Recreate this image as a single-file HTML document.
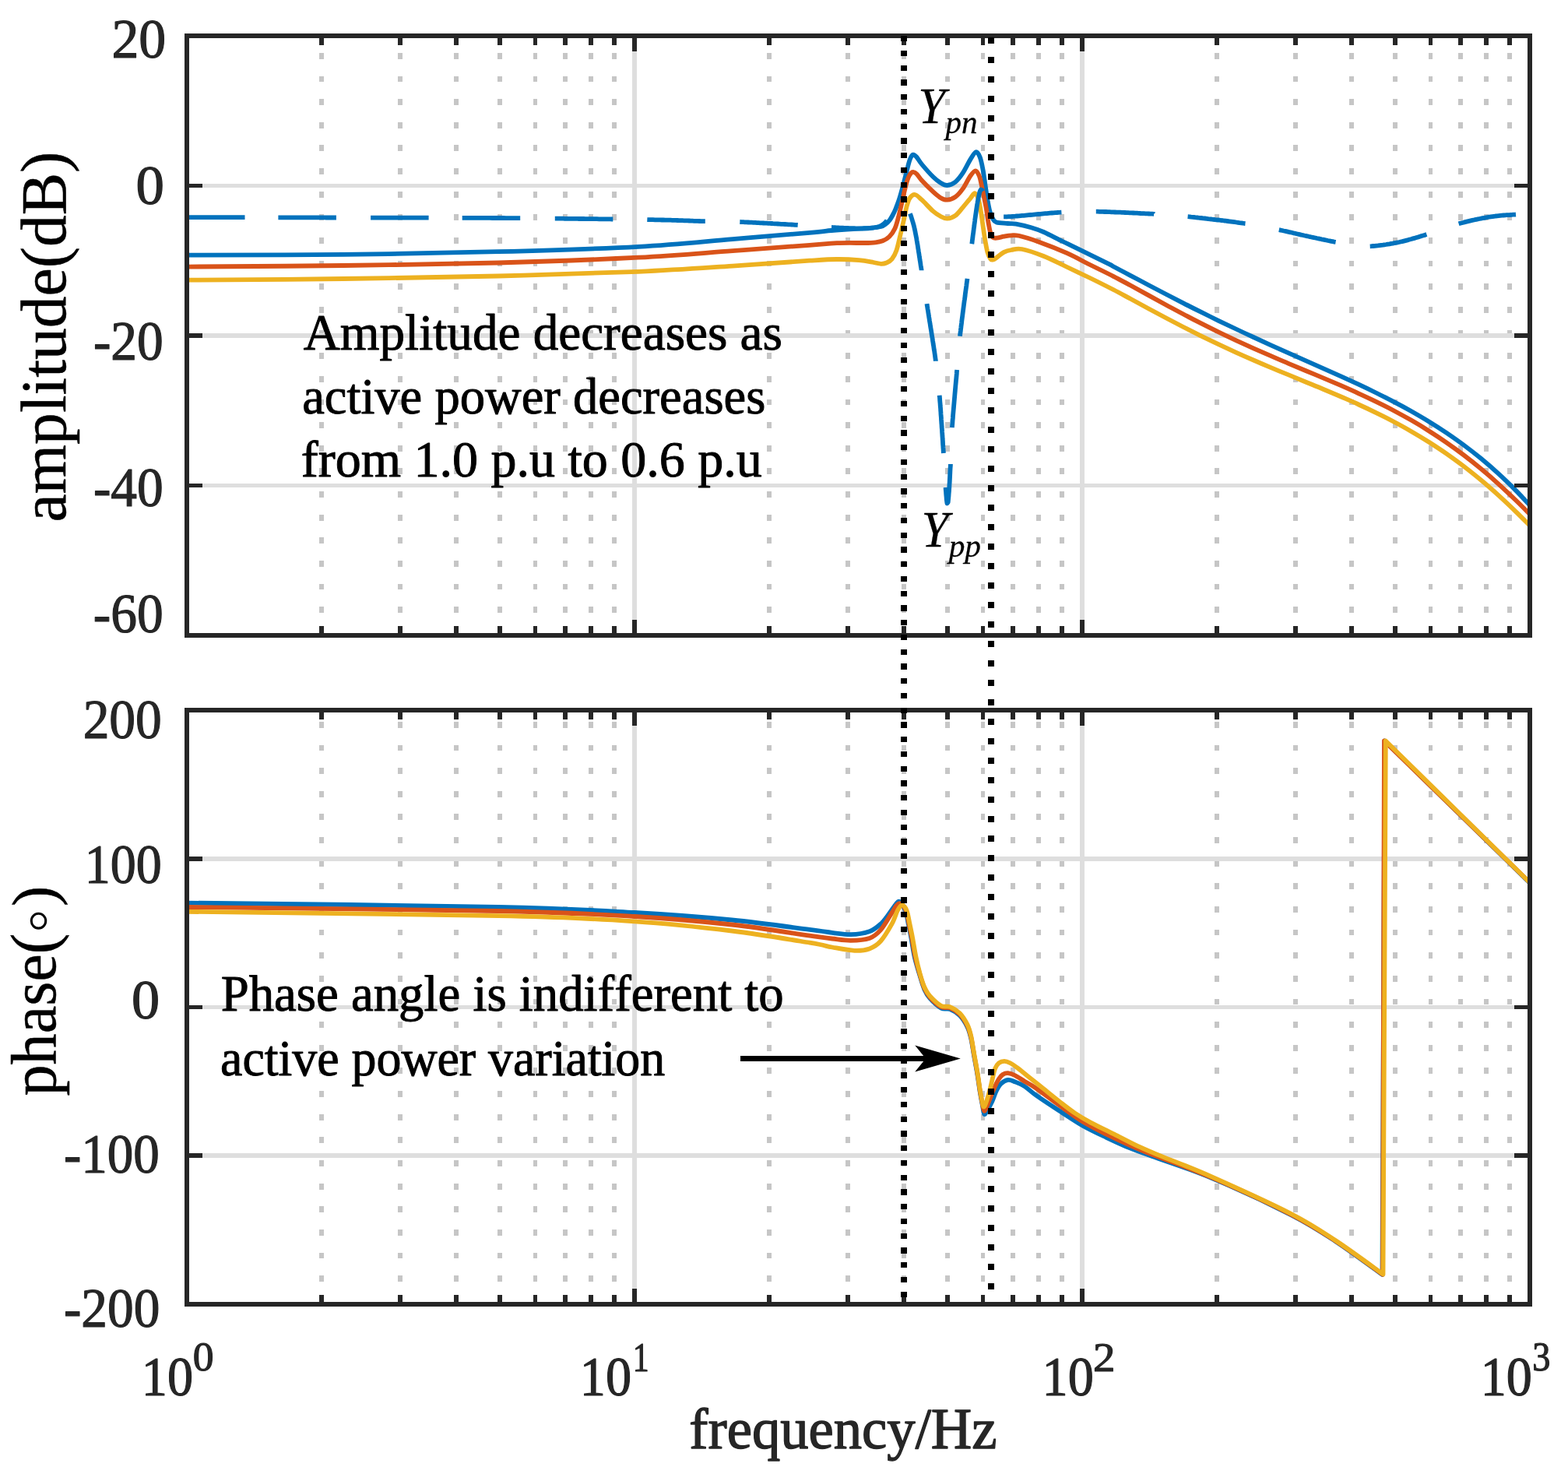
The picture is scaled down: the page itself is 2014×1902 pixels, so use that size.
<!DOCTYPE html>
<html><head><meta charset="utf-8"><title>Bode plot</title>
<style>html,body{margin:0;padding:0;background:#fff;}svg{display:block;}</style>
</head><body>
<svg width="2014" height="1902" viewBox="0 0 2014 1902">
<rect x="0" y="0" width="2014" height="1902" fill="#ffffff"/>
<g shape-rendering="crispEdges">
<line x1="413.09" y1="816.70" x2="413.09" y2="46.00" stroke="#c6c6c6" stroke-width="5.70" stroke-dasharray="7.8 21.84"/>
<line x1="514.34" y1="816.70" x2="514.34" y2="46.00" stroke="#c6c6c6" stroke-width="5.70" stroke-dasharray="7.8 21.84"/>
<line x1="586.18" y1="816.70" x2="586.18" y2="46.00" stroke="#c6c6c6" stroke-width="5.70" stroke-dasharray="7.8 21.84"/>
<line x1="641.91" y1="816.70" x2="641.91" y2="46.00" stroke="#c6c6c6" stroke-width="5.70" stroke-dasharray="7.8 21.84"/>
<line x1="687.44" y1="816.70" x2="687.44" y2="46.00" stroke="#c6c6c6" stroke-width="5.70" stroke-dasharray="7.8 21.84"/>
<line x1="725.93" y1="816.70" x2="725.93" y2="46.00" stroke="#c6c6c6" stroke-width="5.70" stroke-dasharray="7.8 21.84"/>
<line x1="759.28" y1="816.70" x2="759.28" y2="46.00" stroke="#c6c6c6" stroke-width="5.70" stroke-dasharray="7.8 21.84"/>
<line x1="788.69" y1="816.70" x2="788.69" y2="46.00" stroke="#c6c6c6" stroke-width="5.70" stroke-dasharray="7.8 21.84"/>
<line x1="988.09" y1="816.70" x2="988.09" y2="46.00" stroke="#c6c6c6" stroke-width="5.70" stroke-dasharray="7.8 21.84"/>
<line x1="1089.34" y1="816.70" x2="1089.34" y2="46.00" stroke="#c6c6c6" stroke-width="5.70" stroke-dasharray="7.8 21.84"/>
<line x1="1161.18" y1="816.70" x2="1161.18" y2="46.00" stroke="#c6c6c6" stroke-width="5.70" stroke-dasharray="7.8 21.84"/>
<line x1="1216.91" y1="816.70" x2="1216.91" y2="46.00" stroke="#c6c6c6" stroke-width="5.70" stroke-dasharray="7.8 21.84"/>
<line x1="1262.44" y1="816.70" x2="1262.44" y2="46.00" stroke="#c6c6c6" stroke-width="5.70" stroke-dasharray="7.8 21.84"/>
<line x1="1300.93" y1="816.70" x2="1300.93" y2="46.00" stroke="#c6c6c6" stroke-width="5.70" stroke-dasharray="7.8 21.84"/>
<line x1="1334.28" y1="816.70" x2="1334.28" y2="46.00" stroke="#c6c6c6" stroke-width="5.70" stroke-dasharray="7.8 21.84"/>
<line x1="1363.69" y1="816.70" x2="1363.69" y2="46.00" stroke="#c6c6c6" stroke-width="5.70" stroke-dasharray="7.8 21.84"/>
<line x1="1563.09" y1="816.70" x2="1563.09" y2="46.00" stroke="#c6c6c6" stroke-width="5.70" stroke-dasharray="7.8 21.84"/>
<line x1="1664.34" y1="816.70" x2="1664.34" y2="46.00" stroke="#c6c6c6" stroke-width="5.70" stroke-dasharray="7.8 21.84"/>
<line x1="1736.18" y1="816.70" x2="1736.18" y2="46.00" stroke="#c6c6c6" stroke-width="5.70" stroke-dasharray="7.8 21.84"/>
<line x1="1791.91" y1="816.70" x2="1791.91" y2="46.00" stroke="#c6c6c6" stroke-width="5.70" stroke-dasharray="7.8 21.84"/>
<line x1="1837.44" y1="816.70" x2="1837.44" y2="46.00" stroke="#c6c6c6" stroke-width="5.70" stroke-dasharray="7.8 21.84"/>
<line x1="1875.93" y1="816.70" x2="1875.93" y2="46.00" stroke="#c6c6c6" stroke-width="5.70" stroke-dasharray="7.8 21.84"/>
<line x1="1909.28" y1="816.70" x2="1909.28" y2="46.00" stroke="#c6c6c6" stroke-width="5.70" stroke-dasharray="7.8 21.84"/>
<line x1="1938.69" y1="816.70" x2="1938.69" y2="46.00" stroke="#c6c6c6" stroke-width="5.70" stroke-dasharray="7.8 21.84"/>
<line x1="815.00" y1="46.00" x2="815.00" y2="816.00" stroke="#dedede" stroke-width="5.70"/>
<line x1="1390.00" y1="46.00" x2="1390.00" y2="816.00" stroke="#dedede" stroke-width="5.70"/>
<line x1="240.00" y1="46.00" x2="1965.00" y2="46.00" stroke="#dedede" stroke-width="5.70"/>
<line x1="240.00" y1="238.50" x2="1965.00" y2="238.50" stroke="#dedede" stroke-width="5.70"/>
<line x1="240.00" y1="431.00" x2="1965.00" y2="431.00" stroke="#dedede" stroke-width="5.70"/>
<line x1="240.00" y1="623.50" x2="1965.00" y2="623.50" stroke="#dedede" stroke-width="5.70"/>
<line x1="240.00" y1="816.00" x2="1965.00" y2="816.00" stroke="#dedede" stroke-width="5.70"/>
</g>
<text x="389.76" y="449.20" font-family="'Liberation Serif','Times New Roman',serif" font-size="66.50" fill="#000" textLength="615.09" lengthAdjust="spacingAndGlyphs" stroke="#000" stroke-width="1.00" stroke-linejoin="round" style="font-kerning:none">Amplitude decreases as</text>
<text x="388.13" y="531.20" font-family="'Liberation Serif','Times New Roman',serif" font-size="66.50" fill="#000" textLength="595.20" lengthAdjust="spacingAndGlyphs" stroke="#000" stroke-width="1.00" stroke-linejoin="round" style="font-kerning:none">active power decreases</text>
<text x="386.77" y="612.00" font-family="'Liberation Serif','Times New Roman',serif" font-size="66.50" fill="#000" textLength="592.06" lengthAdjust="spacingAndGlyphs" stroke="#000" stroke-width="1.00" stroke-linejoin="round" style="font-kerning:none">from 1.0 p.u to 0.6 p.u</text>
<text x="1179.35" y="157.90" font-family="'Liberation Serif','Times New Roman',serif" font-size="66.50" fill="#000" font-style="italic" textLength="35.00" lengthAdjust="spacingAndGlyphs" stroke="#000" stroke-width="0.30" stroke-linejoin="round" style="font-kerning:none">Y</text>
<text x="1214.56" y="171.00" font-family="'Liberation Serif','Times New Roman',serif" font-size="42.00" fill="#000" font-style="italic" textLength="41.10" lengthAdjust="spacingAndGlyphs" stroke="#000" stroke-width="0.30" stroke-linejoin="round" style="font-kerning:none">pn</text>
<text x="1183.46" y="701.90" font-family="'Liberation Serif','Times New Roman',serif" font-size="66.50" fill="#000" font-style="italic" textLength="34.91" lengthAdjust="spacingAndGlyphs" stroke="#000" stroke-width="0.30" stroke-linejoin="round" style="font-kerning:none">Y</text>
<text x="1218.67" y="714.80" font-family="'Liberation Serif','Times New Roman',serif" font-size="42.00" fill="#000" font-style="italic" textLength="41.33" lengthAdjust="spacingAndGlyphs" stroke="#000" stroke-width="0.30" stroke-linejoin="round" style="font-kerning:none">pp</text>
<g fill="none" stroke-width="5.80" stroke-linejoin="round" stroke-linecap="butt">
<path d="M240.0,327.7C273.5,327.6 374.3,327.6 441.0,326.8C507.7,326.1 576.8,324.9 640.0,323.2C703.2,321.5 769.8,319.5 820.0,316.8C870.2,314.1 904.3,310.1 941.0,307.1C977.7,304.1 1018.8,300.7 1040.0,298.8C1061.2,296.9 1058.7,296.8 1068.0,296.0C1077.3,295.2 1087.8,294.5 1096.0,294.0C1104.2,293.5 1111.1,293.5 1117.0,293.0C1122.9,292.5 1128.1,291.9 1131.6,291.0C1135.1,290.1 1136.2,288.8 1138.0,287.5C1139.8,286.2 1141.1,284.8 1142.5,283.0C1143.9,281.2 1145.2,278.9 1146.5,276.5C1147.8,274.1 1148.9,272.0 1150.3,268.5C1151.7,265.0 1153.5,260.5 1155.1,255.5C1156.7,250.5 1158.3,244.5 1159.9,238.5C1161.5,232.5 1163.3,225.0 1164.7,219.5C1166.1,214.0 1167.2,209.0 1168.5,205.5C1169.8,202.0 1171.0,199.4 1172.5,198.7C1174.0,198.0 1175.3,199.4 1177.2,201.5C1179.1,203.6 1180.5,206.8 1184.0,211.0C1187.5,215.2 1194.4,223.1 1198.4,227.0C1202.4,230.9 1205.0,232.9 1208.0,234.7C1211.0,236.5 1213.4,238.2 1216.6,238.0C1219.8,237.8 1223.8,236.3 1227.1,233.7C1230.4,231.1 1233.5,227.0 1236.7,222.2C1239.9,217.4 1243.5,209.4 1246.3,204.9C1249.1,200.4 1251.4,195.8 1253.5,195.3C1255.6,194.8 1257.3,198.2 1258.8,202.1C1260.3,205.9 1261.5,212.5 1262.6,218.4C1263.7,224.3 1264.5,231.2 1265.5,237.6C1266.5,244.0 1267.4,251.1 1268.4,256.7C1269.4,262.3 1270.2,267.1 1271.3,271.1C1272.4,275.1 1273.7,278.3 1275.1,280.7C1276.5,283.1 1276.7,284.4 1279.9,285.5C1283.1,286.6 1290.1,286.6 1294.3,287.0C1298.5,287.4 1300.0,286.7 1305.0,287.6C1310.0,288.5 1318.6,290.5 1324.5,292.2C1330.4,293.9 1333.9,295.0 1340.6,298.0C1347.3,301.0 1356.8,306.1 1364.8,310.0C1372.8,313.9 1378.8,316.7 1388.8,321.6C1398.8,326.5 1418.1,335.8 1425.0,339.3C1431.9,342.8 1425.4,339.8 1430.0,342.3C1434.6,344.8 1445.0,350.2 1452.5,354.1C1460.0,358.1 1467.5,362.0 1475.0,366.0C1482.5,369.9 1490.0,373.8 1497.5,377.7C1505.0,381.6 1512.5,385.5 1520.0,389.3C1527.5,393.2 1535.0,397.0 1542.5,400.7C1550.0,404.4 1557.5,408.1 1565.0,411.8C1572.5,415.4 1580.0,419.0 1587.5,422.5C1595.0,426.1 1602.5,429.6 1610.0,433.0C1617.5,436.5 1625.0,439.9 1632.5,443.3C1640.0,446.7 1647.5,450.0 1655.0,453.3C1662.5,456.7 1670.0,460.0 1677.5,463.3C1685.0,466.6 1692.5,469.9 1700.0,473.3C1707.5,476.6 1715.0,479.9 1722.5,483.3C1730.0,486.7 1737.5,490.2 1745.0,493.7C1752.5,497.2 1760.0,500.8 1767.5,504.5C1775.0,508.2 1782.5,511.9 1790.0,515.9C1797.5,519.8 1805.0,523.8 1812.5,528.0C1820.0,532.3 1827.5,536.6 1835.0,541.2C1842.5,545.8 1850.0,550.6 1857.5,555.6C1865.0,560.7 1872.5,565.9 1880.0,571.5C1887.5,577.1 1895.0,582.9 1902.5,589.1C1910.0,595.3 1917.5,601.8 1925.0,608.7C1932.5,615.5 1940.8,623.7 1947.5,630.4C1954.2,637.2 1962.1,646.0 1965.0,649.1" stroke="#0072bd"/>
<path d="M240.0,342.6C273.5,342.3 374.3,341.9 441.0,341.0C507.7,340.1 576.8,339.2 640.0,337.5C703.2,335.8 769.8,333.2 820.0,330.7C870.2,328.1 904.3,324.8 941.0,322.2C977.7,319.6 1017.7,316.5 1040.0,314.8C1062.3,313.1 1063.2,312.7 1075.0,312.2C1086.8,311.7 1102.2,312.1 1110.5,312.0C1118.8,311.9 1120.7,311.8 1124.6,311.3C1128.5,310.9 1130.9,310.5 1133.8,309.3C1136.7,308.1 1139.6,306.6 1142.2,304.0C1144.8,301.4 1147.3,298.1 1149.3,293.8C1151.3,289.5 1152.7,283.6 1154.2,278.0C1155.7,272.4 1157.1,266.0 1158.5,260.0C1159.9,254.0 1161.2,247.2 1162.5,242.0C1163.8,236.8 1165.2,231.8 1166.5,228.5C1167.8,225.2 1168.8,223.8 1170.0,222.5C1171.2,221.2 1172.2,220.8 1173.4,221.0C1174.7,221.2 1175.7,221.7 1177.5,223.5C1179.3,225.3 1180.5,228.0 1184.0,231.8C1187.5,235.6 1194.4,242.5 1198.4,246.2C1202.4,249.9 1205.0,252.2 1208.0,253.9C1211.0,255.7 1213.4,256.9 1216.6,256.7C1219.8,256.5 1223.8,255.3 1227.1,252.9C1230.4,250.5 1233.5,246.9 1236.7,242.4C1239.9,237.9 1243.6,229.8 1246.3,226.0C1249.0,222.2 1251.1,219.3 1253.0,219.3C1254.9,219.3 1256.5,222.9 1257.8,226.0C1259.1,229.1 1259.7,233.3 1260.7,237.6C1261.7,241.9 1262.6,247.1 1263.6,251.9C1264.6,256.7 1265.5,260.7 1266.5,266.3C1267.5,271.9 1268.5,280.1 1269.4,285.5C1270.4,290.9 1271.2,295.7 1272.2,298.9C1273.2,302.1 1273.8,303.6 1275.1,304.7C1276.4,305.8 1277.5,305.9 1279.9,305.7C1282.3,305.5 1286.3,304.3 1289.5,303.7C1292.7,303.1 1295.9,302.4 1299.1,302.3C1302.3,302.2 1302.8,301.4 1308.7,302.8C1314.6,304.2 1324.1,307.0 1334.4,310.7C1344.7,314.4 1359.7,320.3 1370.6,325.2C1381.5,330.1 1390.1,335.1 1400.0,340.0C1409.9,344.9 1421.2,350.3 1430.0,354.8C1438.8,359.3 1445.0,362.8 1452.5,366.8C1460.0,370.9 1467.5,375.0 1475.0,379.1C1482.5,383.3 1490.0,387.4 1497.5,391.5C1505.0,395.5 1512.5,399.6 1520.0,403.5C1527.5,407.5 1535.0,411.4 1542.5,415.2C1550.0,419.0 1557.5,422.8 1565.0,426.4C1572.5,430.1 1580.0,433.6 1587.5,437.1C1595.0,440.6 1602.5,444.0 1610.0,447.4C1617.5,450.7 1625.0,454.0 1632.5,457.2C1640.0,460.5 1647.5,463.6 1655.0,466.8C1662.5,470.0 1670.0,473.1 1677.5,476.2C1685.0,479.3 1692.5,482.5 1700.0,485.6C1707.5,488.8 1715.0,492.0 1722.5,495.2C1730.0,498.5 1737.5,501.8 1745.0,505.3C1752.5,508.7 1760.0,512.2 1767.5,515.9C1775.0,519.5 1782.5,523.3 1790.0,527.2C1797.5,531.2 1805.0,535.3 1812.5,539.6C1820.0,543.9 1827.5,548.4 1835.0,553.2C1842.5,557.9 1850.0,562.8 1857.5,568.1C1865.0,573.3 1872.5,578.7 1880.0,584.4C1887.5,590.1 1895.0,596.1 1902.5,602.3C1910.0,608.5 1917.5,615.0 1925.0,621.8C1932.5,628.6 1940.8,636.5 1947.5,643.0C1954.2,649.4 1962.1,657.6 1965.0,660.5" stroke="#d95319"/>
<path d="M240.0,359.7C273.5,359.4 374.3,358.9 441.0,358.0C507.7,357.1 576.8,356.0 640.0,354.5C703.2,353.0 769.8,350.9 820.0,348.8C870.2,346.7 904.3,344.0 941.0,341.6C977.7,339.2 1017.7,336.1 1040.0,334.7C1062.3,333.3 1064.4,333.1 1075.0,333.0C1085.6,332.9 1095.6,333.5 1103.4,334.2C1111.2,334.9 1117.3,336.2 1122.0,337.0C1126.7,337.8 1128.8,338.7 1131.6,338.8C1134.4,338.9 1136.3,338.5 1138.7,337.5C1141.1,336.5 1143.6,335.2 1145.7,332.6C1147.8,330.0 1149.6,326.8 1151.4,321.7C1153.2,316.6 1154.7,309.1 1156.3,302.3C1157.9,295.5 1159.8,287.2 1161.2,281.1C1162.6,275.0 1163.3,269.9 1164.5,265.5C1165.7,261.1 1166.7,257.1 1168.5,254.5C1170.3,251.9 1172.7,249.6 1175.3,250.0C1177.9,250.4 1180.2,253.2 1184.0,256.7C1187.8,260.2 1194.4,267.6 1198.4,271.1C1202.4,274.6 1205.0,276.2 1208.0,277.8C1211.0,279.4 1213.4,280.9 1216.6,280.7C1219.8,280.5 1223.8,279.3 1227.1,276.9C1230.4,274.5 1233.5,270.0 1236.7,266.3C1239.9,262.6 1243.7,257.8 1246.3,254.8C1248.9,251.8 1250.3,247.8 1252.1,248.1C1253.9,248.4 1255.6,252.9 1256.9,256.7C1258.2,260.5 1258.8,265.5 1259.8,271.1C1260.8,276.7 1261.6,283.9 1262.6,290.3C1263.5,296.7 1264.5,303.9 1265.5,309.5C1266.5,315.1 1267.3,320.1 1268.4,323.9C1269.5,327.7 1271.0,330.9 1272.2,332.5C1273.4,334.1 1274.2,333.8 1275.6,333.5C1277.0,333.2 1278.2,332.1 1280.5,330.5C1282.8,328.9 1286.4,325.5 1289.5,323.9C1292.6,322.3 1295.2,321.6 1299.1,321.0C1302.9,320.4 1305.7,318.7 1312.6,320.0C1319.5,321.3 1330.9,325.2 1340.6,329.0C1350.3,332.8 1360.7,338.3 1370.6,343.0C1380.5,347.7 1390.1,352.2 1400.0,357.0C1409.9,361.8 1421.2,367.5 1430.0,372.0C1438.8,376.5 1445.0,380.0 1452.5,384.0C1460.0,388.0 1467.5,392.1 1475.0,396.2C1482.5,400.2 1490.0,404.2 1497.5,408.2C1505.0,412.2 1512.5,416.1 1520.0,420.0C1527.5,423.8 1535.0,427.6 1542.5,431.3C1550.0,435.0 1557.5,438.6 1565.0,442.2C1572.5,445.7 1580.0,449.2 1587.5,452.6C1595.0,456.0 1602.5,459.3 1610.0,462.5C1617.5,465.8 1625.0,469.0 1632.5,472.1C1640.0,475.3 1647.5,478.4 1655.0,481.4C1662.5,484.5 1670.0,487.6 1677.5,490.7C1685.0,493.8 1692.5,496.8 1700.0,500.0C1707.5,503.1 1715.0,506.3 1722.5,509.5C1730.0,512.8 1737.5,516.0 1745.0,519.5C1752.5,522.9 1760.0,526.4 1767.5,530.1C1775.0,533.7 1782.5,537.5 1790.0,541.5C1797.5,545.4 1805.0,549.6 1812.5,553.9C1820.0,558.2 1827.5,562.7 1835.0,567.5C1842.5,572.3 1850.0,577.2 1857.5,582.4C1865.0,587.7 1872.5,593.1 1880.0,598.8C1887.5,604.6 1895.0,610.5 1902.5,616.8C1910.0,623.0 1917.5,629.6 1925.0,636.4C1932.5,643.2 1940.8,651.1 1947.5,657.6C1954.2,664.0 1962.1,672.2 1965.0,675.1" stroke="#edb120"/>
<path d="M240.0,279.1 L242.1,279.1 L244.3,279.1 L246.7,279.1 L249.2,279.1 L251.9,279.1 L254.0,279.1 L256.2,279.1 L258.4,279.1 L260.7,279.1 L263.1,279.1 L265.5,279.1 L268.0,279.2 L270.6,279.2 L273.2,279.2 L275.9,279.2 L278.7,279.2 L281.5,279.2 L284.3,279.2 L287.2,279.2 L290.2,279.2 L293.2,279.2 L295.2,279.2 L297.3,279.2 L299.3,279.2 L301.4,279.2 L303.5,279.2 L305.6,279.2 L307.7,279.2 L309.9,279.2 L312.0,279.2 L314.2,279.2 L314.5,279.2" stroke="#0072bd"/>
<path d="M357.4,279.3 L359.7,279.3 L362.0,279.3 L364.4,279.3 L366.7,279.3 L369.0,279.4 L371.4,279.4 L373.7,279.4 L376.0,279.4 L378.4,279.4 L380.7,279.4 L383.0,279.4 L385.3,279.4 L387.6,279.4 L389.9,279.4 L392.2,279.4 L394.5,279.4 L396.8,279.4 L399.1,279.4 L401.3,279.4 L403.6,279.4 L405.8,279.4 L408.1,279.4 L410.3,279.4 L412.5,279.4 L414.7,279.4 L416.9,279.4 L419.1,279.5 L421.3,279.5 L423.4,279.5 L425.5,279.5 L427.7,279.5 L429.8,279.5 L431.8,279.5 L431.9,279.5" stroke="#0072bd"/>
<path d="M476.1,279.6 L478.1,279.6 L480.2,279.6 L482.2,279.6 L484.2,279.6 L486.2,279.6 L488.2,279.6 L490.2,279.6 L492.3,279.6 L494.3,279.6 L496.3,279.6 L498.3,279.6 L500.3,279.6 L502.3,279.6 L504.3,279.6 L506.4,279.6 L508.4,279.6 L510.4,279.6 L512.4,279.6 L514.4,279.6 L516.4,279.6 L518.5,279.6 L520.5,279.6 L522.5,279.6 L524.5,279.6 L526.5,279.6 L528.5,279.6 L530.6,279.6 L532.6,279.6 L534.6,279.6 L536.6,279.6 L538.6,279.6 L540.6,279.6 L542.6,279.6 L544.6,279.7 L546.7,279.7 L548.7,279.7 L550.6,279.7" stroke="#0072bd"/>
<path d="M593.7,279.8 L596.7,279.8 L599.6,279.8 L602.6,279.8 L605.6,279.8 L608.6,279.8 L611.5,279.8 L614.5,279.9 L617.5,279.9 L620.4,279.9 L623.4,279.9 L626.3,279.9 L629.2,279.9 L632.2,280.0 L635.1,280.0 L638.0,280.0 L641.0,280.0 L643.9,280.0 L646.9,280.0 L649.9,280.1 L652.9,280.1 L654.9,280.1 L656.9,280.1 L658.9,280.1 L660.9,280.2 L663.0,280.2 L665.0,280.2 L667.1,280.2 L668.2,280.2" stroke="#0072bd"/>
<path d="M712.8,280.6 L714.9,280.6 L717.0,280.7 L719.1,280.7 L721.2,280.7 L723.2,280.7 L725.3,280.8 L727.4,280.8 L729.4,280.8 L731.5,280.8 L733.6,280.8 L735.6,280.9 L737.7,280.9 L739.7,280.9 L741.7,280.9 L743.8,281.0 L745.8,281.0 L747.8,281.0 L749.8,281.0 L751.8,281.1 L754.8,281.1 L757.8,281.1 L760.7,281.2 L763.7,281.2 L766.6,281.2 L769.5,281.3 L772.3,281.3 L775.2,281.3 L778.0,281.4 L780.8,281.4 L783.5,281.4 L786.3,281.5 L787.3,281.5" stroke="#0072bd"/>
<path d="M831.3,282.1 L833.9,282.2 L836.4,282.2 L838.8,282.2 L841.2,282.3 L843.5,282.3 L845.7,282.4 L847.9,282.4 L850.0,282.5 L852.0,282.5 L854.5,282.6 L856.8,282.6 L859.1,282.7 L861.3,282.7 L863.5,282.8 L865.5,282.9 L867.9,282.9 L870.1,283.0 L872.3,283.1 L874.4,283.1 L876.5,283.2 L878.7,283.3 L880.9,283.4 L883.1,283.4 L885.1,283.5 L887.2,283.6 L889.4,283.7 L891.6,283.8 L893.8,283.8 L896.0,283.9 L898.3,284.0 L900.5,284.1 L902.8,284.1 L904.8,284.2 L905.8,284.2" stroke="#0072bd"/>
<path d="M950.3,285.0 L952.5,285.1 L954.7,285.2 L956.7,285.3 L958.8,285.4 L961.0,285.5 L963.2,285.6 L965.4,285.7 L967.7,285.8 L970.0,285.9 L972.4,286.1 L974.4,286.2 L976.4,286.3 L978.5,286.4 L980.5,286.5 L982.6,286.6 L984.7,286.7 L986.7,286.8 L988.8,286.9 L990.9,287.0 L992.9,287.2 L995.0,287.3 L997.0,287.4 L999.1,287.5 L1001.1,287.6 L1003.5,287.8 L1005.8,287.9 L1008.2,288.0 L1010.4,288.1 L1012.7,288.3 L1014.8,288.4 L1016.9,288.5 L1019.0,288.6 L1021.3,288.8 L1023.5,288.9 L1024.7,289.0" stroke="#0072bd"/>
<path d="M1068.0,292.0 L1070.1,292.1 L1072.3,292.2 L1074.4,292.3 L1076.5,292.4 L1078.6,292.6 L1080.6,292.6 L1082.6,292.7 L1084.7,292.8 L1086.8,292.9 L1088.9,293.0 L1091.0,293.1 L1093.0,293.1 L1095.2,293.2 L1097.3,293.2 L1099.3,293.3 L1101.4,293.3 L1103.4,293.3 L1105.5,293.3 L1107.5,293.3 L1109.6,293.2 L1111.7,293.2 L1113.8,293.1 L1115.8,293.0 L1117.8,292.9 L1119.8,292.7 L1121.8,292.5 L1123.9,292.2 L1125.8,291.8 L1127.8,291.4 L1129.7,290.7 L1131.6,289.9 L1133.3,288.8 L1135.0,287.6 L1136.5,286.3 L1137.9,284.9 L1139.1,283.3 L1139.3,283.0" stroke="#0072bd"/>
<path d="M1168.8,274.3 L1169.6,276.2 L1170.3,278.1 L1170.9,280.0 L1171.5,282.0 L1172.1,284.0 L1172.7,285.9 L1173.2,287.8 L1173.8,289.9 L1174.3,292.0 L1174.7,294.0 L1175.2,296.0 L1175.6,298.1 L1176.0,300.2 L1176.4,302.2 L1176.8,304.3 L1177.2,306.3 L1177.5,308.4 L1177.9,310.6 L1178.2,312.6 L1178.6,314.6 L1178.9,316.7 L1179.2,318.9 L1179.6,321.0 L1179.9,323.2 L1180.3,325.4 L1180.6,327.6 L1180.9,329.8 L1181.3,332.0 L1181.6,334.3 L1182.0,336.4 L1182.3,338.6 L1182.6,340.7 L1183.0,342.9 L1183.3,344.9 L1183.6,346.9 L1183.6,347.2" stroke="#0072bd"/>
<path d="M1190.5,390.2 L1190.8,392.3 L1191.2,394.5 L1191.5,396.7 L1191.9,398.7 L1192.2,400.8 L1192.5,402.9 L1192.9,405.0 L1193.2,407.2 L1193.6,409.5 L1193.9,411.7 L1194.3,414.0 L1194.7,416.3 L1195.0,418.6 L1195.4,421.0 L1195.8,423.3 L1196.2,425.7 L1196.5,428.1 L1196.9,430.4 L1197.3,432.8 L1197.7,435.1 L1198.0,437.4 L1198.4,439.7 L1198.7,442.0 L1199.1,444.2 L1199.4,446.4 L1199.7,448.6 L1200.1,450.7 L1200.4,452.8 L1200.7,454.9 L1201.0,457.2 L1201.3,459.4 L1201.6,461.5 L1201.9,463.5 L1201.9,463.8" stroke="#0072bd"/>
<path d="M1206.7,507.7 L1206.9,509.8 L1207.1,512.0 L1207.2,514.3 L1207.4,516.4 L1207.6,518.5 L1207.7,520.6 L1207.9,522.8 L1208.1,525.0 L1208.2,527.3 L1208.4,529.6 L1208.5,531.9 L1208.7,534.3 L1208.9,536.7 L1209.0,539.0 L1209.2,541.4 L1209.3,543.4 L1209.5,545.4 L1209.6,547.8 L1209.8,550.2 L1210.0,552.6 L1210.1,554.9 L1210.3,557.3 L1210.4,559.6 L1210.6,561.9 L1210.7,564.1 L1210.9,566.3 L1211.0,568.5 L1211.1,570.6 L1211.3,572.7 L1211.4,574.7 L1211.6,576.9 L1211.7,579.1 L1211.8,581.2 L1211.9,582.0" stroke="#0072bd"/>
<path d="M1214.6,626.0 L1214.7,628.0 L1214.9,630.2 L1215.1,632.3 L1215.2,634.3 L1215.4,636.4 L1215.6,638.4 L1215.7,640.4 L1215.9,642.4 L1216.2,644.5 L1216.5,646.5 L1217.7,644.9 L1217.9,642.9 L1218.1,640.8 L1218.3,638.8 L1218.5,636.7 L1218.6,634.6 L1218.8,632.5 L1219.0,630.4 L1219.1,628.3 L1219.3,626.2 L1219.4,624.1 L1219.5,621.9 L1219.7,619.9 L1219.8,617.7 L1219.9,615.7 L1220.0,613.6 L1220.1,611.5 L1220.2,609.3 L1220.3,607.3 L1220.4,605.2 L1220.5,603.1 L1220.6,601.0 L1220.8,598.8 L1220.9,596.8 L1220.9,596.1" stroke="#0072bd"/>
<path d="M1222.9,549.2 L1223.0,547.1 L1223.2,544.9 L1223.4,542.6 L1223.5,540.6 L1223.7,538.5 L1223.9,536.4 L1224.0,534.2 L1224.2,532.0 L1224.4,529.8 L1224.6,527.5 L1224.8,525.2 L1225.0,522.9 L1225.2,520.6 L1225.4,518.3 L1225.6,515.9 L1225.8,513.6 L1226.0,511.2 L1226.2,508.9 L1226.4,506.5 L1226.6,504.2 L1226.8,501.9 L1227.0,499.6 L1227.2,497.4 L1227.4,495.1 L1227.6,492.9 L1227.8,490.8 L1228.0,488.6 L1228.2,486.6 L1228.4,484.5 L1228.6,482.2 L1228.8,480.0 L1228.9,477.9 L1229.1,475.9 L1229.2,475.0" stroke="#0072bd"/>
<path d="M1233.0,431.7 L1233.2,429.6 L1233.5,427.4 L1233.8,425.1 L1234.0,423.1 L1234.3,421.1 L1234.5,419.0 L1234.8,416.8 L1235.1,414.6 L1235.3,412.4 L1235.6,410.1 L1235.9,407.9 L1236.2,405.6 L1236.5,403.2 L1236.8,400.9 L1237.1,398.6 L1237.4,396.2 L1237.7,393.9 L1238.0,391.5 L1238.3,389.2 L1238.6,386.8 L1239.0,384.5 L1239.3,382.2 L1239.6,380.0 L1239.8,377.7 L1240.1,375.5 L1240.4,373.3 L1240.7,371.2 L1241.0,369.1 L1241.3,367.1 L1241.5,365.1 L1241.8,362.9 L1242.1,360.7 L1242.4,358.6 L1242.5,357.8" stroke="#0072bd"/>
<path d="M1248.3,313.2 L1248.6,311.2 L1248.8,309.1 L1249.1,307.0 L1249.4,304.9 L1249.6,302.8 L1249.9,300.7 L1250.2,298.6 L1250.5,296.5 L1250.7,294.4 L1251.0,292.3 L1251.3,290.3 L1251.5,288.3 L1251.8,286.3 L1252.1,284.1 L1252.3,281.9 L1252.6,279.8 L1252.9,277.8 L1253.2,275.7 L1253.5,273.6 L1253.8,271.5 L1254.1,269.5 L1254.4,267.5 L1254.7,265.4 L1255.0,263.3 L1255.4,261.3 L1255.7,259.3 L1256.1,257.2 L1256.5,255.2 L1256.9,253.2 L1257.3,251.2 L1257.7,249.2 L1258.2,247.2 L1258.8,245.3 L1259.8,243.5 L1261.6,244.4 L1262.3,245.7" stroke="#0072bd"/>
<path d="M1289.1,278.4 L1291.2,278.4 L1293.3,278.3 L1295.3,278.2 L1297.4,278.1 L1299.7,278.0 L1301.8,277.8 L1303.9,277.7 L1306.2,277.5 L1308.5,277.3 L1310.8,277.1 L1312.8,276.9 L1314.9,276.8 L1317.0,276.6 L1319.1,276.4 L1321.2,276.2 L1323.3,276.0 L1325.5,275.8 L1327.6,275.6 L1329.8,275.4 L1331.9,275.2 L1334.1,275.0 L1336.2,274.8 L1338.4,274.6 L1340.5,274.4 L1342.6,274.2 L1344.6,274.1 L1346.7,273.9 L1348.7,273.7 L1351.0,273.5 L1353.3,273.3 L1355.5,273.1 L1357.6,273.0 L1359.6,272.8 L1361.9,272.7 L1363.4,272.6" stroke="#0072bd"/>
<path d="M1407.8,271.7 L1409.9,271.7 L1412.1,271.8 L1414.4,271.9 L1416.5,271.9 L1418.6,272.0 L1420.7,272.0 L1422.9,272.1 L1425.2,272.2 L1427.4,272.3 L1429.8,272.4 L1432.1,272.5 L1434.5,272.6 L1436.9,272.7 L1438.9,272.7 L1440.9,272.8 L1442.9,272.9 L1444.9,273.0 L1446.9,273.1 L1448.9,273.2 L1450.9,273.3 L1453.3,273.4 L1455.7,273.5 L1458.1,273.6 L1460.4,273.7 L1462.7,273.8 L1465.0,274.0 L1467.2,274.1 L1469.4,274.2 L1471.5,274.3 L1473.6,274.4 L1475.6,274.5 L1477.8,274.6 L1480.0,274.7 L1482.1,274.8 L1482.2,274.9" stroke="#0072bd"/>
<path d="M1525.6,278.1 L1527.7,278.3 L1529.9,278.6 L1532.3,278.8 L1534.3,279.0 L1536.4,279.3 L1538.6,279.5 L1540.8,279.8 L1543.1,280.0 L1545.4,280.3 L1547.7,280.5 L1550.1,280.8 L1552.1,281.1 L1554.1,281.3 L1556.1,281.5 L1558.1,281.8 L1560.1,282.0 L1562.2,282.3 L1564.2,282.5 L1566.2,282.7 L1568.2,283.0 L1570.3,283.2 L1572.3,283.5 L1574.3,283.7 L1576.6,284.0 L1579.0,284.3 L1581.3,284.6 L1583.5,284.9 L1585.7,285.2 L1587.9,285.5 L1590.0,285.8 L1592.1,286.1 L1594.1,286.3 L1596.4,286.7 L1598.5,287.0 L1599.5,287.1" stroke="#0072bd"/>
<path d="M1642.8,295.2 L1644.8,295.6 L1646.8,296.0 L1648.9,296.5 L1651.0,296.9 L1653.1,297.4 L1655.2,297.9 L1657.3,298.3 L1659.3,298.8 L1661.3,299.3 L1663.4,299.7 L1665.4,300.2 L1667.4,300.7 L1669.3,301.1 L1671.3,301.6 L1673.3,302.0 L1675.3,302.5 L1677.3,302.9 L1679.3,303.3 L1681.3,303.8 L1683.3,304.2 L1685.3,304.7 L1687.4,305.1 L1689.4,305.5 L1691.5,306.0 L1693.5,306.4 L1695.6,306.8 L1697.6,307.3 L1699.6,307.7 L1701.6,308.1 L1703.6,308.5 L1705.7,309.0 L1707.8,309.4 L1709.8,309.8 L1711.8,310.2 L1713.8,310.6 L1715.6,310.9" stroke="#0072bd"/>
<path d="M1759.7,316.3 L1761.7,316.2 L1763.7,316.0 L1765.8,315.8 L1767.9,315.6 L1770.0,315.4 L1772.1,315.1 L1774.2,314.8 L1776.2,314.6 L1778.3,314.3 L1780.4,314.0 L1782.5,313.6 L1784.7,313.3 L1786.8,312.9 L1788.9,312.6 L1791.0,312.2 L1793.1,311.8 L1795.1,311.4 L1797.1,311.0 L1799.1,310.5 L1801.0,310.1 L1803.0,309.6 L1805.0,309.1 L1806.9,308.6 L1808.9,308.1 L1810.8,307.5 L1812.8,307.0 L1814.8,306.4 L1816.8,305.9 L1818.7,305.3 L1820.7,304.7 L1822.8,304.1 L1824.8,303.4 L1826.9,302.8 L1828.9,302.2 L1830.9,301.6 L1832.4,301.1" stroke="#0072bd"/>
<path d="M1873.6,287.3 L1875.6,286.7 L1877.7,286.2 L1879.8,285.7 L1881.8,285.1 L1883.9,284.6 L1886.0,284.1 L1888.1,283.6 L1890.1,283.1 L1892.2,282.7 L1894.2,282.2 L1896.3,281.8 L1898.3,281.4 L1900.3,281.0 L1902.4,280.6 L1904.3,280.2 L1906.5,279.8 L1908.6,279.4 L1910.7,279.0 L1912.8,278.7 L1914.8,278.4 L1916.8,278.1 L1918.9,277.8 L1920.9,277.5 L1922.9,277.3 L1924.9,277.1 L1927.0,276.9 L1929.2,276.7 L1931.3,276.5 L1933.3,276.4 L1935.3,276.2 L1937.5,276.1 L1939.5,276.0 L1941.6,275.8 L1943.7,275.7 L1945.8,275.6 L1947.0,275.5" stroke="#0072bd"/>
</g>
<g shape-rendering="crispEdges" stroke="#262626" stroke-width="5.70">
<line x1="413.09" y1="816.00" x2="413.09" y2="804.00"/>
<line x1="413.09" y1="46.00" x2="413.09" y2="58.00"/>
<line x1="514.34" y1="816.00" x2="514.34" y2="804.00"/>
<line x1="514.34" y1="46.00" x2="514.34" y2="58.00"/>
<line x1="586.18" y1="816.00" x2="586.18" y2="804.00"/>
<line x1="586.18" y1="46.00" x2="586.18" y2="58.00"/>
<line x1="641.91" y1="816.00" x2="641.91" y2="804.00"/>
<line x1="641.91" y1="46.00" x2="641.91" y2="58.00"/>
<line x1="687.44" y1="816.00" x2="687.44" y2="804.00"/>
<line x1="687.44" y1="46.00" x2="687.44" y2="58.00"/>
<line x1="725.93" y1="816.00" x2="725.93" y2="804.00"/>
<line x1="725.93" y1="46.00" x2="725.93" y2="58.00"/>
<line x1="759.28" y1="816.00" x2="759.28" y2="804.00"/>
<line x1="759.28" y1="46.00" x2="759.28" y2="58.00"/>
<line x1="788.69" y1="816.00" x2="788.69" y2="804.00"/>
<line x1="788.69" y1="46.00" x2="788.69" y2="58.00"/>
<line x1="988.09" y1="816.00" x2="988.09" y2="804.00"/>
<line x1="988.09" y1="46.00" x2="988.09" y2="58.00"/>
<line x1="1089.34" y1="816.00" x2="1089.34" y2="804.00"/>
<line x1="1089.34" y1="46.00" x2="1089.34" y2="58.00"/>
<line x1="1161.18" y1="816.00" x2="1161.18" y2="804.00"/>
<line x1="1161.18" y1="46.00" x2="1161.18" y2="58.00"/>
<line x1="1216.91" y1="816.00" x2="1216.91" y2="804.00"/>
<line x1="1216.91" y1="46.00" x2="1216.91" y2="58.00"/>
<line x1="1262.44" y1="816.00" x2="1262.44" y2="804.00"/>
<line x1="1262.44" y1="46.00" x2="1262.44" y2="58.00"/>
<line x1="1300.93" y1="816.00" x2="1300.93" y2="804.00"/>
<line x1="1300.93" y1="46.00" x2="1300.93" y2="58.00"/>
<line x1="1334.28" y1="816.00" x2="1334.28" y2="804.00"/>
<line x1="1334.28" y1="46.00" x2="1334.28" y2="58.00"/>
<line x1="1363.69" y1="816.00" x2="1363.69" y2="804.00"/>
<line x1="1363.69" y1="46.00" x2="1363.69" y2="58.00"/>
<line x1="1563.09" y1="816.00" x2="1563.09" y2="804.00"/>
<line x1="1563.09" y1="46.00" x2="1563.09" y2="58.00"/>
<line x1="1664.34" y1="816.00" x2="1664.34" y2="804.00"/>
<line x1="1664.34" y1="46.00" x2="1664.34" y2="58.00"/>
<line x1="1736.18" y1="816.00" x2="1736.18" y2="804.00"/>
<line x1="1736.18" y1="46.00" x2="1736.18" y2="58.00"/>
<line x1="1791.91" y1="816.00" x2="1791.91" y2="804.00"/>
<line x1="1791.91" y1="46.00" x2="1791.91" y2="58.00"/>
<line x1="1837.44" y1="816.00" x2="1837.44" y2="804.00"/>
<line x1="1837.44" y1="46.00" x2="1837.44" y2="58.00"/>
<line x1="1875.93" y1="816.00" x2="1875.93" y2="804.00"/>
<line x1="1875.93" y1="46.00" x2="1875.93" y2="58.00"/>
<line x1="1909.28" y1="816.00" x2="1909.28" y2="804.00"/>
<line x1="1909.28" y1="46.00" x2="1909.28" y2="58.00"/>
<line x1="1938.69" y1="816.00" x2="1938.69" y2="804.00"/>
<line x1="1938.69" y1="46.00" x2="1938.69" y2="58.00"/>
<line x1="240.00" y1="816.00" x2="240.00" y2="796.00"/>
<line x1="240.00" y1="46.00" x2="240.00" y2="66.00"/>
<line x1="815.00" y1="816.00" x2="815.00" y2="796.00"/>
<line x1="815.00" y1="46.00" x2="815.00" y2="66.00"/>
<line x1="1390.00" y1="816.00" x2="1390.00" y2="796.00"/>
<line x1="1390.00" y1="46.00" x2="1390.00" y2="66.00"/>
<line x1="1965.00" y1="816.00" x2="1965.00" y2="796.00"/>
<line x1="1965.00" y1="46.00" x2="1965.00" y2="66.00"/>
<line x1="240.00" y1="46.00" x2="260.00" y2="46.00"/>
<line x1="1965.00" y1="46.00" x2="1945.00" y2="46.00"/>
<line x1="240.00" y1="238.50" x2="260.00" y2="238.50"/>
<line x1="1965.00" y1="238.50" x2="1945.00" y2="238.50"/>
<line x1="240.00" y1="431.00" x2="260.00" y2="431.00"/>
<line x1="1965.00" y1="431.00" x2="1945.00" y2="431.00"/>
<line x1="240.00" y1="623.50" x2="260.00" y2="623.50"/>
<line x1="1965.00" y1="623.50" x2="1945.00" y2="623.50"/>
<line x1="240.00" y1="816.00" x2="260.00" y2="816.00"/>
<line x1="1965.00" y1="816.00" x2="1945.00" y2="816.00"/>
<rect x="240.00" y="46.00" width="1725.00" height="770.00" fill="none"/>
</g>
<g shape-rendering="crispEdges">
<line x1="413.09" y1="1675.70" x2="413.09" y2="912.00" stroke="#c6c6c6" stroke-width="5.70" stroke-dasharray="7.8 21.84"/>
<line x1="514.34" y1="1675.70" x2="514.34" y2="912.00" stroke="#c6c6c6" stroke-width="5.70" stroke-dasharray="7.8 21.84"/>
<line x1="586.18" y1="1675.70" x2="586.18" y2="912.00" stroke="#c6c6c6" stroke-width="5.70" stroke-dasharray="7.8 21.84"/>
<line x1="641.91" y1="1675.70" x2="641.91" y2="912.00" stroke="#c6c6c6" stroke-width="5.70" stroke-dasharray="7.8 21.84"/>
<line x1="687.44" y1="1675.70" x2="687.44" y2="912.00" stroke="#c6c6c6" stroke-width="5.70" stroke-dasharray="7.8 21.84"/>
<line x1="725.93" y1="1675.70" x2="725.93" y2="912.00" stroke="#c6c6c6" stroke-width="5.70" stroke-dasharray="7.8 21.84"/>
<line x1="759.28" y1="1675.70" x2="759.28" y2="912.00" stroke="#c6c6c6" stroke-width="5.70" stroke-dasharray="7.8 21.84"/>
<line x1="788.69" y1="1675.70" x2="788.69" y2="912.00" stroke="#c6c6c6" stroke-width="5.70" stroke-dasharray="7.8 21.84"/>
<line x1="988.09" y1="1675.70" x2="988.09" y2="912.00" stroke="#c6c6c6" stroke-width="5.70" stroke-dasharray="7.8 21.84"/>
<line x1="1089.34" y1="1675.70" x2="1089.34" y2="912.00" stroke="#c6c6c6" stroke-width="5.70" stroke-dasharray="7.8 21.84"/>
<line x1="1161.18" y1="1675.70" x2="1161.18" y2="912.00" stroke="#c6c6c6" stroke-width="5.70" stroke-dasharray="7.8 21.84"/>
<line x1="1216.91" y1="1675.70" x2="1216.91" y2="912.00" stroke="#c6c6c6" stroke-width="5.70" stroke-dasharray="7.8 21.84"/>
<line x1="1262.44" y1="1675.70" x2="1262.44" y2="912.00" stroke="#c6c6c6" stroke-width="5.70" stroke-dasharray="7.8 21.84"/>
<line x1="1300.93" y1="1675.70" x2="1300.93" y2="912.00" stroke="#c6c6c6" stroke-width="5.70" stroke-dasharray="7.8 21.84"/>
<line x1="1334.28" y1="1675.70" x2="1334.28" y2="912.00" stroke="#c6c6c6" stroke-width="5.70" stroke-dasharray="7.8 21.84"/>
<line x1="1363.69" y1="1675.70" x2="1363.69" y2="912.00" stroke="#c6c6c6" stroke-width="5.70" stroke-dasharray="7.8 21.84"/>
<line x1="1563.09" y1="1675.70" x2="1563.09" y2="912.00" stroke="#c6c6c6" stroke-width="5.70" stroke-dasharray="7.8 21.84"/>
<line x1="1664.34" y1="1675.70" x2="1664.34" y2="912.00" stroke="#c6c6c6" stroke-width="5.70" stroke-dasharray="7.8 21.84"/>
<line x1="1736.18" y1="1675.70" x2="1736.18" y2="912.00" stroke="#c6c6c6" stroke-width="5.70" stroke-dasharray="7.8 21.84"/>
<line x1="1791.91" y1="1675.70" x2="1791.91" y2="912.00" stroke="#c6c6c6" stroke-width="5.70" stroke-dasharray="7.8 21.84"/>
<line x1="1837.44" y1="1675.70" x2="1837.44" y2="912.00" stroke="#c6c6c6" stroke-width="5.70" stroke-dasharray="7.8 21.84"/>
<line x1="1875.93" y1="1675.70" x2="1875.93" y2="912.00" stroke="#c6c6c6" stroke-width="5.70" stroke-dasharray="7.8 21.84"/>
<line x1="1909.28" y1="1675.70" x2="1909.28" y2="912.00" stroke="#c6c6c6" stroke-width="5.70" stroke-dasharray="7.8 21.84"/>
<line x1="1938.69" y1="1675.70" x2="1938.69" y2="912.00" stroke="#c6c6c6" stroke-width="5.70" stroke-dasharray="7.8 21.84"/>
<line x1="815.00" y1="912.00" x2="815.00" y2="1675.00" stroke="#dedede" stroke-width="5.70"/>
<line x1="1390.00" y1="912.00" x2="1390.00" y2="1675.00" stroke="#dedede" stroke-width="5.70"/>
<line x1="240.00" y1="912.00" x2="1965.00" y2="912.00" stroke="#dedede" stroke-width="5.70"/>
<line x1="240.00" y1="1102.75" x2="1965.00" y2="1102.75" stroke="#dedede" stroke-width="5.70"/>
<line x1="240.00" y1="1293.50" x2="1965.00" y2="1293.50" stroke="#dedede" stroke-width="5.70"/>
<line x1="240.00" y1="1484.25" x2="1965.00" y2="1484.25" stroke="#dedede" stroke-width="5.70"/>
<line x1="240.00" y1="1675.00" x2="1965.00" y2="1675.00" stroke="#dedede" stroke-width="5.70"/>
</g>
<text x="283.63" y="1297.90" font-family="'Liberation Serif','Times New Roman',serif" font-size="66.50" fill="#000" textLength="723.13" lengthAdjust="spacingAndGlyphs" stroke="#000" stroke-width="1.00" stroke-linejoin="round" style="font-kerning:none">Phase angle is indifferent to</text>
<text x="283.05" y="1381.40" font-family="'Liberation Serif','Times New Roman',serif" font-size="66.50" fill="#000" textLength="571.11" lengthAdjust="spacingAndGlyphs" stroke="#000" stroke-width="1.00" stroke-linejoin="round" style="font-kerning:none">active power variation</text>
<g fill="none" stroke-width="5.80" stroke-linejoin="round" stroke-linecap="butt">
<path d="M240.0,1159.6C306.7,1160.5 544.2,1162.7 640.0,1164.8C735.8,1166.9 765.0,1169.2 815.0,1172.0C865.0,1174.8 902.5,1177.8 940.0,1181.5C977.5,1185.2 1018.5,1191.2 1040.0,1193.9C1061.5,1196.6 1060.0,1196.8 1068.8,1197.8C1077.6,1198.8 1084.8,1200.5 1092.8,1200.2C1100.8,1200.0 1110.3,1198.5 1116.7,1196.3C1123.1,1194.0 1127.1,1190.2 1131.1,1186.7C1135.1,1183.2 1137.5,1179.4 1140.7,1175.2C1143.9,1171.0 1147.8,1164.7 1150.3,1161.8C1152.8,1158.9 1153.4,1156.7 1155.5,1158.0C1157.6,1159.3 1161.0,1164.7 1162.9,1169.5C1164.8,1174.3 1165.4,1180.6 1166.7,1186.7C1168.0,1192.8 1169.3,1199.0 1170.6,1206.0C1171.9,1213.0 1172.9,1221.2 1174.7,1229.0C1176.5,1236.8 1179.4,1246.0 1181.5,1253.0C1183.6,1260.0 1185.3,1266.1 1187.5,1271.0C1189.7,1275.9 1190.9,1278.2 1194.4,1282.2C1198.0,1286.2 1204.5,1292.4 1208.8,1294.7C1213.1,1297.0 1216.3,1294.5 1220.3,1296.1C1224.3,1297.7 1229.1,1300.5 1232.8,1304.2C1236.5,1308.0 1240.0,1313.8 1242.4,1318.6C1244.8,1323.4 1245.6,1326.7 1247.1,1333.0C1248.6,1339.3 1249.8,1348.7 1251.2,1356.5C1252.6,1364.3 1254.1,1372.1 1255.4,1379.9C1256.7,1387.7 1257.8,1396.7 1258.9,1403.4C1260.0,1410.1 1261.1,1415.4 1262.0,1420.0C1262.9,1424.6 1263.2,1429.9 1264.2,1430.9C1265.2,1431.9 1266.3,1428.7 1268.0,1426.0C1269.7,1423.3 1272.1,1419.3 1274.1,1415.0C1276.1,1410.7 1278.0,1404.3 1280.0,1400.4C1282.0,1396.5 1283.5,1393.8 1285.9,1391.6C1288.4,1389.3 1291.8,1387.3 1294.7,1386.9C1297.6,1386.5 1299.9,1387.8 1303.4,1389.2C1307.0,1390.6 1311.5,1392.2 1316.0,1395.1C1320.5,1398.0 1323.0,1401.2 1330.4,1406.4C1337.8,1411.6 1350.5,1420.0 1360.6,1426.5C1370.7,1433.0 1380.7,1440.0 1390.8,1445.7C1400.9,1451.4 1410.9,1456.0 1421.0,1460.8C1431.1,1465.6 1441.4,1470.4 1451.2,1474.4C1461.0,1478.4 1462.4,1478.6 1480.0,1485.0C1497.6,1491.4 1526.8,1500.5 1556.6,1513.0C1586.4,1525.5 1632.2,1546.8 1658.6,1560.3C1685.0,1573.8 1695.7,1581.2 1715.2,1594.0C1734.7,1606.8 1765.5,1629.8 1775.5,1637.0 L1778.5,951.5C1809.6,981.9 1933.9,1103.6 1965.0,1134.0" stroke="#0072bd"/>
<path d="M240.0,1165.0C306.7,1165.8 544.2,1168.0 640.0,1170.0C735.8,1172.0 765.0,1174.1 815.0,1177.0C865.0,1179.9 902.5,1183.4 940.0,1187.5C977.5,1191.6 1018.5,1198.6 1040.0,1201.6C1061.5,1204.6 1060.0,1204.5 1068.8,1205.5C1077.6,1206.5 1084.8,1207.9 1092.8,1207.8C1100.8,1207.7 1110.3,1207.2 1116.7,1205.0C1123.1,1202.8 1126.3,1199.8 1131.1,1194.4C1135.9,1189.0 1142.1,1177.6 1145.5,1172.4C1148.9,1167.2 1149.7,1165.0 1151.5,1163.0C1153.3,1161.0 1154.5,1159.4 1156.5,1160.5C1158.5,1161.6 1161.9,1165.1 1163.7,1169.5C1165.5,1173.9 1166.2,1180.6 1167.5,1186.7C1168.8,1192.8 1170.1,1199.0 1171.4,1206.0C1172.7,1213.0 1173.8,1221.4 1175.5,1229.0C1177.2,1236.6 1179.5,1244.8 1181.5,1251.5C1183.5,1258.2 1185.3,1264.6 1187.5,1269.5C1189.7,1274.4 1190.9,1276.8 1194.4,1280.7C1198.0,1284.7 1204.5,1290.9 1208.8,1293.2C1213.1,1295.5 1216.3,1293.0 1220.3,1294.6C1224.3,1296.2 1229.1,1299.0 1232.8,1302.7C1236.5,1306.5 1240.0,1312.3 1242.4,1317.1C1244.8,1321.9 1245.6,1325.2 1247.1,1331.5C1248.6,1337.8 1249.8,1347.2 1251.2,1355.0C1252.6,1362.8 1254.1,1370.6 1255.4,1378.4C1256.7,1386.2 1257.8,1395.2 1258.9,1401.9C1260.0,1408.6 1261.1,1414.3 1262.0,1418.5C1262.9,1422.7 1263.3,1426.4 1264.2,1426.8C1265.1,1427.2 1266.3,1423.5 1267.5,1421.0C1268.7,1418.5 1269.6,1415.9 1271.2,1412.0C1272.8,1408.1 1275.1,1401.8 1277.1,1397.4C1279.0,1393.0 1281.1,1388.6 1282.9,1385.7C1284.7,1382.8 1286.0,1381.3 1288.0,1380.0C1290.0,1378.7 1292.1,1377.9 1294.7,1378.1C1297.3,1378.3 1299.9,1379.2 1303.4,1381.0C1307.0,1382.8 1311.5,1386.0 1316.0,1388.7C1320.5,1391.4 1323.0,1392.2 1330.4,1397.3C1337.8,1402.4 1350.5,1412.3 1360.6,1419.5C1370.7,1426.7 1380.7,1434.4 1390.8,1440.6C1400.9,1446.8 1410.9,1451.7 1421.0,1456.7C1431.1,1461.7 1441.4,1466.4 1451.2,1470.8C1461.0,1475.2 1462.4,1476.0 1480.0,1482.9C1497.6,1489.8 1526.8,1499.6 1556.6,1512.4C1586.4,1525.2 1632.2,1546.3 1658.6,1559.8C1685.0,1573.3 1695.6,1580.8 1715.2,1593.6C1734.8,1606.4 1765.9,1629.6 1776.0,1636.8 L1778.0,951.5C1809.2,981.8 1933.8,1103.2 1965.0,1133.5" stroke="#d95319"/>
<path d="M240.0,1170.8C306.7,1171.7 544.2,1174.1 640.0,1176.2C735.8,1178.3 765.0,1180.1 815.0,1183.3C865.0,1186.5 902.5,1190.9 940.0,1195.5C977.5,1200.1 1018.5,1207.2 1040.0,1210.7C1061.5,1214.2 1059.2,1214.8 1068.8,1216.5C1078.4,1218.2 1089.6,1220.5 1097.6,1220.8C1105.6,1221.1 1111.1,1220.4 1116.7,1218.4C1122.3,1216.4 1126.3,1214.1 1131.1,1208.8C1135.9,1203.5 1141.8,1193.3 1145.5,1186.7C1149.2,1180.1 1150.8,1173.1 1153.0,1169.0C1155.2,1164.9 1157.0,1162.2 1158.9,1162.3C1160.9,1162.4 1163.1,1165.4 1164.7,1169.5C1166.3,1173.6 1167.2,1180.6 1168.5,1186.7C1169.8,1192.8 1171.1,1199.0 1172.4,1206.0C1173.7,1213.0 1175.0,1221.7 1176.5,1229.0C1178.0,1236.3 1179.7,1243.5 1181.5,1250.0C1183.3,1256.5 1185.3,1263.1 1187.5,1268.0C1189.7,1272.9 1190.9,1275.2 1194.4,1279.2C1198.0,1283.2 1204.5,1289.4 1208.8,1291.7C1213.1,1294.0 1216.3,1291.5 1220.3,1293.1C1224.3,1294.7 1229.1,1297.5 1232.8,1301.2C1236.5,1305.0 1240.0,1310.8 1242.4,1315.6C1244.8,1320.4 1245.6,1323.7 1247.1,1330.0C1248.6,1336.3 1249.8,1345.7 1251.2,1353.5C1252.6,1361.3 1254.1,1369.1 1255.4,1376.9C1256.7,1384.7 1257.8,1393.7 1258.9,1400.4C1260.0,1407.1 1261.2,1413.5 1262.0,1417.0C1262.8,1420.5 1262.9,1421.4 1263.6,1421.5C1264.3,1421.6 1264.7,1421.0 1266.0,1417.5C1267.3,1414.0 1269.8,1405.7 1271.2,1400.4C1272.7,1395.1 1273.5,1390.4 1274.7,1385.7C1275.9,1381.0 1276.8,1375.6 1278.2,1372.2C1279.6,1368.8 1280.9,1366.8 1282.9,1365.2C1284.9,1363.6 1287.5,1362.8 1290.0,1362.8C1292.5,1362.8 1294.9,1363.8 1297.6,1365.2C1300.3,1366.6 1302.6,1368.3 1306.4,1371.1C1310.2,1373.9 1314.6,1377.7 1320.3,1382.2C1326.0,1386.7 1333.7,1392.9 1340.4,1398.3C1347.1,1403.7 1353.9,1409.3 1360.6,1414.5C1367.3,1419.7 1374.0,1425.1 1380.7,1429.6C1387.4,1434.1 1392.4,1437.1 1400.8,1441.6C1409.2,1446.1 1421.0,1451.7 1431.1,1456.7C1441.2,1461.8 1451.7,1467.4 1461.3,1471.9C1470.9,1476.4 1472.7,1477.0 1488.6,1483.6C1504.5,1490.2 1528.3,1498.8 1556.6,1511.4C1584.9,1524.0 1632.2,1545.4 1658.6,1559.0C1685.0,1572.6 1695.5,1580.1 1715.2,1593.0C1734.9,1605.9 1766.3,1629.2 1776.5,1636.5 L1779.8,951.5C1810.7,981.8 1934.1,1103.2 1965.0,1133.5" stroke="#edb120"/>
</g>
<g shape-rendering="crispEdges" stroke="#262626" stroke-width="5.70">
<line x1="413.09" y1="1675.00" x2="413.09" y2="1663.00"/>
<line x1="413.09" y1="912.00" x2="413.09" y2="924.00"/>
<line x1="514.34" y1="1675.00" x2="514.34" y2="1663.00"/>
<line x1="514.34" y1="912.00" x2="514.34" y2="924.00"/>
<line x1="586.18" y1="1675.00" x2="586.18" y2="1663.00"/>
<line x1="586.18" y1="912.00" x2="586.18" y2="924.00"/>
<line x1="641.91" y1="1675.00" x2="641.91" y2="1663.00"/>
<line x1="641.91" y1="912.00" x2="641.91" y2="924.00"/>
<line x1="687.44" y1="1675.00" x2="687.44" y2="1663.00"/>
<line x1="687.44" y1="912.00" x2="687.44" y2="924.00"/>
<line x1="725.93" y1="1675.00" x2="725.93" y2="1663.00"/>
<line x1="725.93" y1="912.00" x2="725.93" y2="924.00"/>
<line x1="759.28" y1="1675.00" x2="759.28" y2="1663.00"/>
<line x1="759.28" y1="912.00" x2="759.28" y2="924.00"/>
<line x1="788.69" y1="1675.00" x2="788.69" y2="1663.00"/>
<line x1="788.69" y1="912.00" x2="788.69" y2="924.00"/>
<line x1="988.09" y1="1675.00" x2="988.09" y2="1663.00"/>
<line x1="988.09" y1="912.00" x2="988.09" y2="924.00"/>
<line x1="1089.34" y1="1675.00" x2="1089.34" y2="1663.00"/>
<line x1="1089.34" y1="912.00" x2="1089.34" y2="924.00"/>
<line x1="1161.18" y1="1675.00" x2="1161.18" y2="1663.00"/>
<line x1="1161.18" y1="912.00" x2="1161.18" y2="924.00"/>
<line x1="1216.91" y1="1675.00" x2="1216.91" y2="1663.00"/>
<line x1="1216.91" y1="912.00" x2="1216.91" y2="924.00"/>
<line x1="1262.44" y1="1675.00" x2="1262.44" y2="1663.00"/>
<line x1="1262.44" y1="912.00" x2="1262.44" y2="924.00"/>
<line x1="1300.93" y1="1675.00" x2="1300.93" y2="1663.00"/>
<line x1="1300.93" y1="912.00" x2="1300.93" y2="924.00"/>
<line x1="1334.28" y1="1675.00" x2="1334.28" y2="1663.00"/>
<line x1="1334.28" y1="912.00" x2="1334.28" y2="924.00"/>
<line x1="1363.69" y1="1675.00" x2="1363.69" y2="1663.00"/>
<line x1="1363.69" y1="912.00" x2="1363.69" y2="924.00"/>
<line x1="1563.09" y1="1675.00" x2="1563.09" y2="1663.00"/>
<line x1="1563.09" y1="912.00" x2="1563.09" y2="924.00"/>
<line x1="1664.34" y1="1675.00" x2="1664.34" y2="1663.00"/>
<line x1="1664.34" y1="912.00" x2="1664.34" y2="924.00"/>
<line x1="1736.18" y1="1675.00" x2="1736.18" y2="1663.00"/>
<line x1="1736.18" y1="912.00" x2="1736.18" y2="924.00"/>
<line x1="1791.91" y1="1675.00" x2="1791.91" y2="1663.00"/>
<line x1="1791.91" y1="912.00" x2="1791.91" y2="924.00"/>
<line x1="1837.44" y1="1675.00" x2="1837.44" y2="1663.00"/>
<line x1="1837.44" y1="912.00" x2="1837.44" y2="924.00"/>
<line x1="1875.93" y1="1675.00" x2="1875.93" y2="1663.00"/>
<line x1="1875.93" y1="912.00" x2="1875.93" y2="924.00"/>
<line x1="1909.28" y1="1675.00" x2="1909.28" y2="1663.00"/>
<line x1="1909.28" y1="912.00" x2="1909.28" y2="924.00"/>
<line x1="1938.69" y1="1675.00" x2="1938.69" y2="1663.00"/>
<line x1="1938.69" y1="912.00" x2="1938.69" y2="924.00"/>
<line x1="240.00" y1="1675.00" x2="240.00" y2="1655.00"/>
<line x1="240.00" y1="912.00" x2="240.00" y2="932.00"/>
<line x1="815.00" y1="1675.00" x2="815.00" y2="1655.00"/>
<line x1="815.00" y1="912.00" x2="815.00" y2="932.00"/>
<line x1="1390.00" y1="1675.00" x2="1390.00" y2="1655.00"/>
<line x1="1390.00" y1="912.00" x2="1390.00" y2="932.00"/>
<line x1="1965.00" y1="1675.00" x2="1965.00" y2="1655.00"/>
<line x1="1965.00" y1="912.00" x2="1965.00" y2="932.00"/>
<line x1="240.00" y1="912.00" x2="260.00" y2="912.00"/>
<line x1="1965.00" y1="912.00" x2="1945.00" y2="912.00"/>
<line x1="240.00" y1="1102.75" x2="260.00" y2="1102.75"/>
<line x1="1965.00" y1="1102.75" x2="1945.00" y2="1102.75"/>
<line x1="240.00" y1="1293.50" x2="260.00" y2="1293.50"/>
<line x1="1965.00" y1="1293.50" x2="1945.00" y2="1293.50"/>
<line x1="240.00" y1="1484.25" x2="260.00" y2="1484.25"/>
<line x1="1965.00" y1="1484.25" x2="1945.00" y2="1484.25"/>
<line x1="240.00" y1="1675.00" x2="260.00" y2="1675.00"/>
<line x1="1965.00" y1="1675.00" x2="1945.00" y2="1675.00"/>
<rect x="240.00" y="912.00" width="1725.00" height="763.00" fill="none"/>
</g>
<g shape-rendering="crispEdges">
<line x1="1161.0" y1="46" x2="1161.0" y2="1667" stroke="#000" stroke-width="8" stroke-dasharray="7.3 11.45"/>
<line x1="1273.0" y1="48.3" x2="1273.0" y2="1660" stroke="#000" stroke-width="8" stroke-dasharray="7.7 17.3"/>
</g>
<line x1="951" y1="1359.5" x2="1190" y2="1359.5" stroke="#000" stroke-width="7"/>
<path d="M1233.8,1359.5 L1175.2,1342.4 L1189,1359.5 L1175.2,1376.4 Z" fill="#000"/>
<g style="font-kerning:none">
<text x="143.44" y="74.30" font-family="'Liberation Serif','Times New Roman',serif" font-size="71.00" fill="#262626" textLength="69.72" lengthAdjust="spacingAndGlyphs" stroke="#262626" stroke-width="1.20" stroke-linejoin="round">20</text>
<text x="174.62" y="262.30" font-family="'Liberation Serif','Times New Roman',serif" font-size="71.00" fill="#262626" textLength="36.45" lengthAdjust="spacingAndGlyphs" stroke="#262626" stroke-width="1.20" stroke-linejoin="round">0</text>
<text x="119.90" y="461.80" font-family="'Liberation Serif','Times New Roman',serif" font-size="71.00" fill="#262626" textLength="89.98" lengthAdjust="spacingAndGlyphs" stroke="#262626" stroke-width="1.20" stroke-linejoin="round">-20</text>
<text x="119.90" y="650.20" font-family="'Liberation Serif','Times New Roman',serif" font-size="71.00" fill="#262626" textLength="89.98" lengthAdjust="spacingAndGlyphs" stroke="#262626" stroke-width="1.20" stroke-linejoin="round">-40</text>
<text x="119.80" y="812.20" font-family="'Liberation Serif','Times New Roman',serif" font-size="71.00" fill="#262626" textLength="89.98" lengthAdjust="spacingAndGlyphs" stroke="#262626" stroke-width="1.20" stroke-linejoin="round">-60</text>
<text x="106.63" y="948.30" font-family="'Liberation Serif','Times New Roman',serif" font-size="71.00" fill="#262626" textLength="101.24" lengthAdjust="spacingAndGlyphs" stroke="#262626" stroke-width="1.20" stroke-linejoin="round">200</text>
<text x="108.80" y="1134.30" font-family="'Liberation Serif','Times New Roman',serif" font-size="71.00" fill="#262626" textLength="99.02" lengthAdjust="spacingAndGlyphs" stroke="#262626" stroke-width="1.20" stroke-linejoin="round">100</text>
<text x="168.95" y="1307.70" font-family="'Liberation Serif','Times New Roman',serif" font-size="71.00" fill="#262626" textLength="36.10" lengthAdjust="spacingAndGlyphs" stroke="#262626" stroke-width="1.20" stroke-linejoin="round">0</text>
<text x="81.91" y="1506.30" font-family="'Liberation Serif','Times New Roman',serif" font-size="71.00" fill="#262626" textLength="122.94" lengthAdjust="spacingAndGlyphs" stroke="#262626" stroke-width="1.20" stroke-linejoin="round">-100</text>
<text x="81.90" y="1703.90" font-family="'Liberation Serif','Times New Roman',serif" font-size="71.00" fill="#262626" textLength="123.46" lengthAdjust="spacingAndGlyphs" stroke="#262626" stroke-width="1.20" stroke-linejoin="round">-200</text>
<text x="181.78" y="1791.60" font-family="'Liberation Serif','Times New Roman',serif" font-size="71.00" fill="#262626" textLength="66.25" lengthAdjust="spacingAndGlyphs" stroke="#262626" stroke-width="1.20" stroke-linejoin="round">10</text>
<text x="247.66" y="1760.40" font-family="'Liberation Serif','Times New Roman',serif" font-size="52.50" fill="#262626" textLength="26.78" lengthAdjust="spacingAndGlyphs" stroke="#262626" stroke-width="1.20" stroke-linejoin="round">0</text>
<text x="744.78" y="1791.80" font-family="'Liberation Serif','Times New Roman',serif" font-size="71.00" fill="#262626" textLength="66.25" lengthAdjust="spacingAndGlyphs" stroke="#262626" stroke-width="1.20" stroke-linejoin="round">10</text>
<text x="812.83" y="1760.90" font-family="'Liberation Serif','Times New Roman',serif" font-size="52.50" fill="#262626" textLength="20.88" lengthAdjust="spacingAndGlyphs" stroke="#262626" stroke-width="1.20" stroke-linejoin="round">1</text>
<text x="1338.58" y="1791.80" font-family="'Liberation Serif','Times New Roman',serif" font-size="71.00" fill="#262626" textLength="66.25" lengthAdjust="spacingAndGlyphs" stroke="#262626" stroke-width="1.20" stroke-linejoin="round">10</text>
<text x="1404.00" y="1760.90" font-family="'Liberation Serif','Times New Roman',serif" font-size="52.50" fill="#262626" textLength="28.44" lengthAdjust="spacingAndGlyphs" stroke="#262626" stroke-width="1.20" stroke-linejoin="round">2</text>
<text x="1901.69" y="1791.80" font-family="'Liberation Serif','Times New Roman',serif" font-size="71.00" fill="#262626" textLength="66.13" lengthAdjust="spacingAndGlyphs" stroke="#262626" stroke-width="1.20" stroke-linejoin="round">10</text>
<text x="1968.29" y="1760.40" font-family="'Liberation Serif','Times New Roman',serif" font-size="52.50" fill="#262626" textLength="23.12" lengthAdjust="spacingAndGlyphs" stroke="#262626" stroke-width="1.20" stroke-linejoin="round">3</text>
<text x="885.37" y="1859.70" font-family="'Liberation Serif','Times New Roman',serif" font-size="73.00" fill="#262626" textLength="395.16" lengthAdjust="spacingAndGlyphs" stroke="#262626" stroke-width="1.40" stroke-linejoin="round">frequency/Hz</text>
<text transform="translate(83.50,667.75) rotate(-90)" x="-2.87" y="0" font-family="'Liberation Serif','Times New Roman',serif" font-size="81.70" fill="#000" stroke="#000" stroke-width="0.50" textLength="476.06" lengthAdjust="spacingAndGlyphs">amplitude(dB)</text>
<text transform="translate(71.00,1406.15) rotate(-90)" x="-1.29" y="0" font-family="'Liberation Serif','Times New Roman',serif" font-size="81.70" fill="#000" stroke="#000" stroke-width="0.50" textLength="208.97" lengthAdjust="spacingAndGlyphs">phase(</text>
<text transform="translate(74.80,1193.90) rotate(-90)" x="-14.48" y="0" font-family="'DejaVu Sans',sans-serif" font-size="81.70" font-weight="200" fill="#000" textLength="50.86" lengthAdjust="spacingAndGlyphs">∘</text>
<text transform="translate(69.50,1161.35) rotate(-90)" x="-2.55" y="0" font-family="'Liberation Serif','Times New Roman',serif" font-size="78.00" fill="#000" stroke="#000" stroke-width="0.50" textLength="26.32" lengthAdjust="spacingAndGlyphs">)</text>
</g>
</svg>
</body></html>
